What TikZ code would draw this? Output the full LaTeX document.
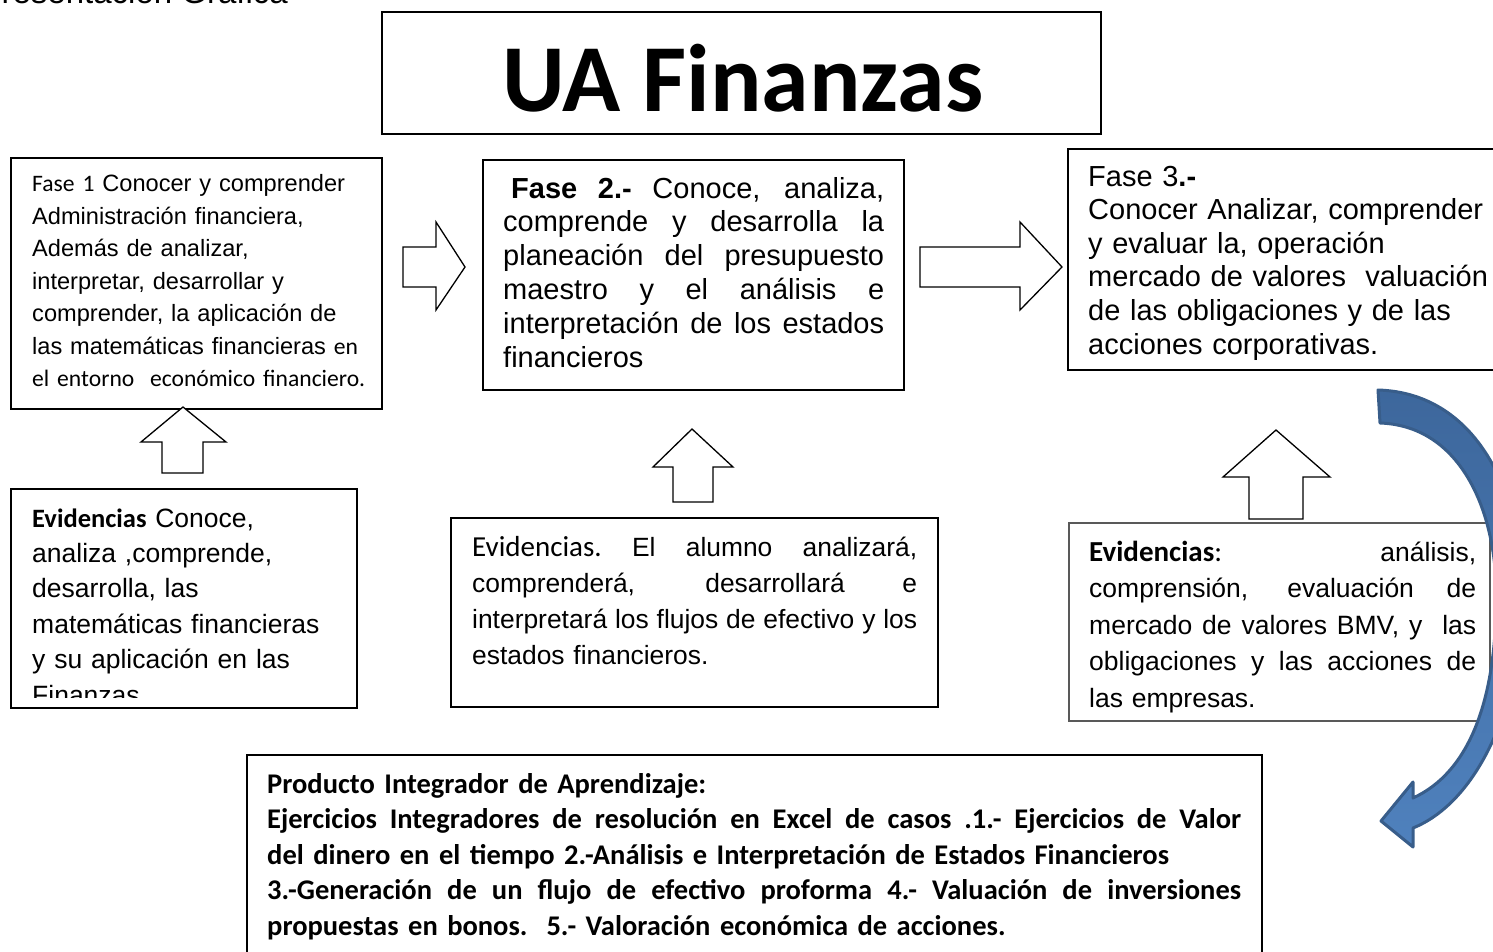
\documentclass[tikz,border=0pt]{standalone}
\usepackage{fontspec}
\setmainfont{Liberation Sans}
\newfontfamily\calfont{Carlito}
\setlength{\parindent}{0pt}
\newcommand{\fs}[2]{\fontsize{#1}{#2}\selectfont}
\newcommand{\jline}[1]{\leavevmode\hbox to \linewidth{\spaceskip=\fontdimen2\font plus 1fil minus 0.3\fontdimen2\font\relax\xspaceskip=\spaceskip #1}\\}
\definecolor{bluefillA}{RGB}{61,103,156}
\definecolor{bluefillB}{RGB}{79,129,189}
\definecolor{blueline}{RGB}{56,93,138}
\begin{document}
\begin{tikzpicture}[x=1pt,y=-1pt,
  box/.style={draw,line width=1.6pt,inner sep=0pt,fill=white},
  txt/.style={anchor=base west,inner sep=0pt,align=left},
  blockarrow/.style={draw,line width=1.3pt,fill=white,line join=miter}]
\useasboundingbox (0,0) rectangle (1493,952);
\clip (0,0) rectangle (1493,952);

% cut-off heading
\node[anchor=base east,inner sep=0pt,font=\fs{33}{35}] (pres) at (288,4) {Presentación Gráfica};

% title
\node[box, minimum width=719, minimum height=122] (title) at (741.5,73) {};
\node[inner sep=0pt, anchor=base, font=\calfont\bfseries\fs{96}{100}] (titletxt) at (743,112) {UA Finanzas};

% boxes
\node[box, minimum width=371, minimum height=251] (f1) at (196.5,283.5) {};
\node[box, minimum width=421, minimum height=230] (f2) at (693.5,275) {};
\node[box, minimum width=442, minimum height=221] (f3) at (1289,259.5) {};
\node[box, minimum width=346, minimum height=219] (e1) at (184,598.5) {};
\node[box, minimum width=487, minimum height=189] (e2) at (694.5,612.5) {};
\node[box, draw=black!65, line width=1.3pt, minimum width=421, minimum height=198] (e3) at (1279.5,622) {};
\node[box, minimum width=1015, minimum height=215] (prod) at (754.5,862.5) {};

% texts
\node[txt, text width=345, font=\fs{23.6}{32.5}] (f1t) at (32,192)
 {{\calfont Fase 1} Conocer y comprender\\
  Administración financiera,\\
  Además de analizar,\\
  interpretar, desarrollar y\\
  comprender, la aplicación de\\
  las matemáticas financieras {\calfont en}\\
  {\calfont el entorno\ \ económico financiero.}};

\node[txt, text width=381, font=\fs{29}{33.8}] (f2t) at (503,198)
 {\jline{\hspace*{8pt}\textbf{Fase 2.-} Conoce, analiza,}
  \jline{comprende y desarrolla la}
  \jline{planeación del presupuesto}
  \jline{maestro y el análisis e}
  \jline{interpretación de los estados}
  financieros};

\node[txt, text width=420, font=\fs{29}{33.6}] (f3t) at (1088,186)
 {Fase 3\textbf{.-}\\
  Conocer Analizar, comprender\\
  y evaluar la, operación\\
  mercado de valores\ \ valuación\\
  de las obligaciones y de las\\
  acciones corporativas.};

\begin{scope}
\clip (12,490) rectangle (356,697);
\node[txt, text width=320, font=\fs{26.5}{35.4}] (e1t) at (32,527)
 {{\calfont\bfseries Evidencias} Conoce,\\
  analiza ,comprende,\\
  desarrolla, las\\
  matemáticas financieras\\
  y su aplicación en las\\
  Finanzas};
\end{scope}

\node[txt, text width=445, font=\fs{26.4}{36}] (e2t) at (472,556)
 {\jline{{\calfont\fs{29}{36}Evidencias.} El alumno analizará,}
  \jline{comprenderá, desarrollará e}
  \jline{interpretará los flujos de efectivo y los}
  estados financieros.};

\node[txt, text width=387, font=\fs{26.5}{36.5}] (e3t) at (1089,561)
 {\jline{{\calfont\bfseries\fs{29}{36.5}Evidencias}{\calfont\fs{29}{36.5}:} análisis,}
  \jline{comprensión, evaluación de}
  \jline{mercado de valores BMV, y\ \ las}
  \jline{obligaciones y las acciones de}
  las empresas.};

\node[txt, text width=974, font=\calfont\bfseries\fs{28.5}{35.5}] (prodt) at (267,793)
 {Producto Integrador de Aprendizaje:\\
  \jline{Ejercicios Integradores de resolución en Excel de casos .1.- Ejercicios de Valor}
  del dinero en el tiempo 2.-Análisis e Interpretación de Estados Financieros\\
  \jline{3.-Generación de un flujo de efectivo proforma 4.- Valuación de inversiones}
  propuestas en bonos.\ \ 5.- Valoración económica de acciones.};

% block arrows (right)
\draw[blockarrow] (403,247) -- (436,247) -- (436,222) -- (465,267) -- (436,310) -- (436,287) -- (403,287) -- cycle;
\draw[blockarrow] (920,247) -- (1020,247) -- (1020,222) -- (1062,267) -- (1020,310) -- (1020,287) -- (920,287) -- cycle;

% block arrows (up)
\draw[blockarrow] (162,473) -- (162,442) -- (141,442) -- (183,407) -- (226,442) -- (203,442) -- (203,473) -- cycle;
\draw[blockarrow] (673,502) -- (673,467) -- (653,467) -- (692,429) -- (733,467) -- (713,467) -- (713,502) -- cycle;
\draw[blockarrow] (1249,519) -- (1249,477) -- (1223,477) -- (1276,430) -- (1330,477) -- (1303,477) -- (1303,519) -- cycle;

% curved blue arrow
\shadedraw[top color=bluefillA, bottom color=bluefillB, draw=blueline, line width=3pt, line join=round]
  (1378,390) -- (1380,423)
  .. controls (1465,426) and (1500,520) .. (1496,610)
  .. controls (1494,700) and (1470,772) .. (1413,798)
  -- (1413,782) -- (1381,821) -- (1413,847) -- (1413,828)
  .. controls (1470,805) and (1515,725) .. (1524,610)
  .. controls (1526,500) and (1480,393) .. (1378,390) -- cycle;
\end{tikzpicture}
\end{document}
